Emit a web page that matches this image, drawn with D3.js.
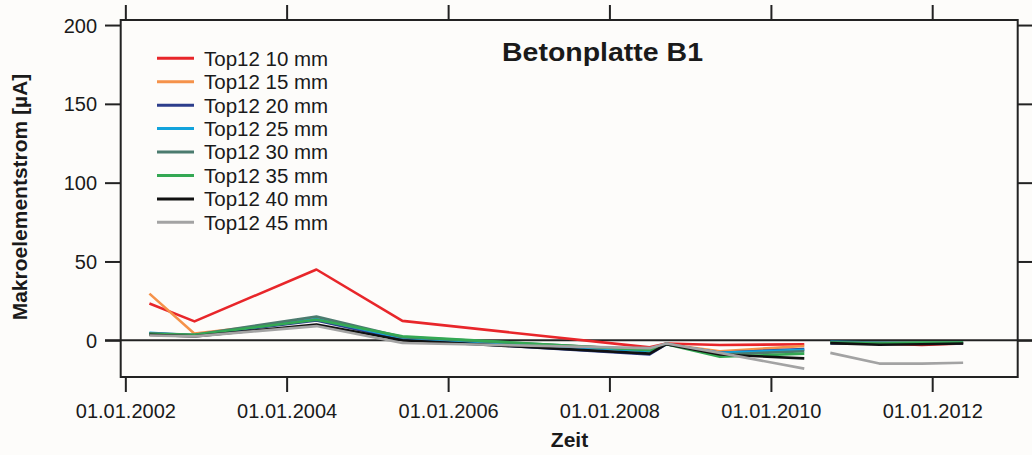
<!DOCTYPE html>
<html>
<head>
<meta charset="utf-8">
<script src="https://cdn.jsdelivr.net/npm/d3@7"></script>
<style>
  html, body { margin: 0; padding: 0; background: #fdfcfa; }
  svg { display: block; }
  text { font-family: "Liberation Sans", Arial, sans-serif; fill: #1a1a1a; }
</style>
</head>
<body>
<svg id="chart" width="1032" height="455"></svg>
<script>
// ---- data ----
const dates = ["2002-04-20","2002-11-10","2004-05-15","2005-06-08","2008-07-01","2008-09-15","2009-05-15","2010-06-01","2010-08-01","2010-09-27","2011-05-07","2011-11-15","2012-05-20"];
const top12_10 = [23.3, 12, 44.9, 12.3, -4.5, -2, -3, -2.5, null, -1.5, -2, -3, -2];
const top12_15 = [29.6, 4.2, 13, 1.5, -6, -2.5, -7, -3.6, null, -1.5, -2, -2, -1.5];
const top12_20 = [4.5, 3, 12.5, 0.5, -9, -2.5, -8, -5.5, null, -2, -2, -2, -2];
const top12_25 = [4.7, 3.2, 13.5, 1.5, -7, -2.5, -8, -6, null, -1, -1.5, -2, -1.5];
const top12_30 = [4.5, 3.5, 15, 2, -6, -2, -9, -7, null, -1.5, -1.5, -1.5, -1.5];
const top12_35 = [4, 3.5, 13, 2.5, -6.3, -2.5, -10.5, -8.5, null, -1.5, -2, -1.5, -1.5];
const top12_40 = [3.5, 2.5, 10, 0, -8.5, -2.5, -9, -11.5, null, -1.8, -2.8, -2.5, -2];
const top12_45 = [3, 2.5, 9, -1.7, -5, -2, -8, -18, null, -8, -14.8, -14.8, -14.3];
const seriesNames = ["Top12 10 mm","Top12 15 mm","Top12 20 mm","Top12 25 mm","Top12 30 mm","Top12 35 mm","Top12 40 mm","Top12 45 mm"];
const seriesColors = ["#e8262a","#f5924a","#2c3e8c","#12a3dc","#4b7b6e","#34a853","#111111","#a3a3a3"];
const xTickDates = ["2002-01-01","2004-01-01","2006-01-01","2008-01-01","2010-01-01","2012-01-01"];
const yTicks = [0, 50, 100, 150, 200];
const xDomain = ["2001-12-11","2013-01-22"];
const yDomain = [-23.3, 203.2];
const title = "Betonplatte B1";
const xTitle = "Zeit";
const yTitle = "Makroelementstrom [µA]";

// ---- layout ----
const parse = d3.utcParse("%Y-%m-%d");
const fmt = d3.utcFormat("%d.%m.%Y");
const L = 120.7, R = 1017.7, T = 20, B = 377;
const svg = d3.select("#chart");

const x = d3.scaleUtc().domain(xDomain.map(parse)).range([L, R]);
const y = d3.scaleLinear().domain(yDomain).range([B, T]);

const allSeries = [top12_10, top12_15, top12_20, top12_25, top12_30, top12_35, top12_40, top12_45];
const dd = dates.map(parse);

// zero line
svg.append("line")
  .attr("x1", L - 15.7).attr("x2", 1032)
  .attr("y1", y(0)).attr("y2", y(0))
  .attr("stroke", "#222").attr("stroke-width", 2);

// lines
const line = d3.line()
  .defined(d => d.v != null)
  .x(d => x(d.d)).y(d => y(d.v));

const g = svg.append("g");
allSeries.forEach((vals, i) => {
  g.append("path")
    .datum(vals.map((v, j) => ({d: dd[j], v})))
    .attr("fill", "none")
    .attr("stroke", seriesColors[i])
    .attr("stroke-width", 2.6)
    .attr("stroke-linejoin", "round")
    .attr("d", line);
});

// frame
svg.append("rect")
  .attr("x", L).attr("y", T).attr("width", R - L).attr("height", B - T)
  .attr("fill", "none").attr("stroke", "#222").attr("stroke-width", 2);

// axes
const tickFmt = d => fmt(d);
const xt = xTickDates.map(parse);
const axB = svg.append("g").attr("transform", `translate(0,${B})`)
  .call(d3.axisBottom(x).tickValues(xt).tickFormat(tickFmt).tickSize(15).tickPadding(12));
const axT = svg.append("g").attr("transform", `translate(0,${T})`)
  .call(d3.axisTop(x).tickValues(xt).tickFormat("").tickSize(15));
const axL = svg.append("g").attr("transform", `translate(${L},0)`)
  .call(d3.axisLeft(y).tickValues(yTicks).tickSize(15.7).tickPadding(8));
const axR = svg.append("g").attr("transform", `translate(${R},0)`)
  .call(d3.axisRight(y).tickValues(yTicks).tickFormat("").tickSize(14.3));

[axB, axT, axL, axR].forEach(a => {
  a.select(".domain").remove();
  a.selectAll(".tick line").attr("stroke", "#222").attr("stroke-width", 2);
  a.selectAll(".tick text").attr("font-size", 20).attr("fill", "#1a1a1a")
    .style("font-family", '"Liberation Sans", Arial, sans-serif');
});
axL.selectAll(".tick text").attr("dy", "0.35em");

// titles
svg.append("text")
  .attr("x", 602.5).attr("y", 60.7)
  .attr("text-anchor", "middle")
  .attr("font-size", 25.5).attr("font-weight", "bold")
  .attr("textLength", 201).attr("lengthAdjust", "spacingAndGlyphs")
  .text(title);

svg.append("text")
  .attr("x", 569.5).attr("y", 447)
  .attr("text-anchor", "middle")
  .attr("font-size", 21).attr("font-weight", "bold")
  .text(xTitle);

svg.append("text")
  .attr("transform", "translate(27,197) rotate(-90)")
  .attr("text-anchor", "middle")
  .attr("font-size", 21).attr("font-weight", "bold")
  .text(yTitle);

// legend
const leg = svg.append("g");
seriesNames.forEach((name, i) => {
  const yy = 58.3 + i * 23.43;
  leg.append("line")
    .attr("x1", 157).attr("x2", 194).attr("y1", yy).attr("y2", yy)
    .attr("stroke", seriesColors[i]).attr("stroke-width", 3);
  leg.append("text")
    .attr("x", 204).attr("y", yy).attr("dy", "0.36em")
    .attr("font-size", 20.5)
    .text(name);
});
</script>
</body>
</html>
